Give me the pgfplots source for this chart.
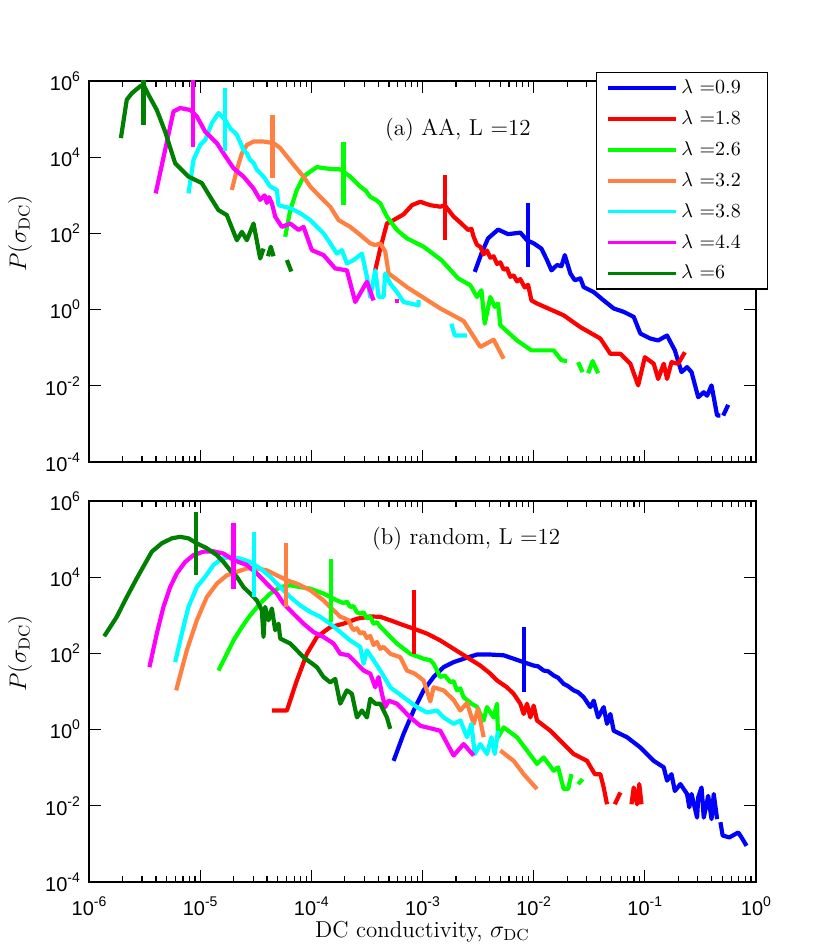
\documentclass[border=0pt]{standalone}
\usepackage{fontspec}
\usepackage{pgfplots}
\pgfplotsset{compat=1.18}
\newfontfamily\tf{Liberation Sans}
\definecolor{cB}{rgb}{0,0,1}
\definecolor{cR}{rgb}{1,0,0}
\definecolor{cG}{rgb}{0,1,0}
\definecolor{cO}{rgb}{1,0.5,0.25}
\definecolor{cC}{rgb}{0,1,1}
\definecolor{cM}{rgb}{1,0,1}
\definecolor{cD}{rgb}{0,0.5,0}
\newcommand\tkl[1]{{\tf\fontsize{10}{12}\selectfont 10\raisebox{4.5pt}{\fontsize{7}{8}\selectfont #1}}}
\newcommand\lgd[1]{\makebox[36pt][l]{$\lambda$ =#1}}
\newcommand\PL[1]{\addplot[#1, line width=2.1pt, line join=round] table[row sep=\\, x expr={10^(\thisrow{lx})}, y expr={10^(\thisrow{ly})}]}
\begin{document}
\begin{tikzpicture}
\path[use as bounding box] (0,0) rectangle (415.5pt,476pt);
% ---------------- (a) ----------------
\begin{axis}[at={(44.5pt,245pt)}, anchor=south west,
    xmode=log, ymode=log, scale only axis, width=333.5pt, height=190.5pt,
    xmin=1e-6, xmax=1, ymin=1e-4, ymax=1e6,
    xtick={1e-6,1e-5,1e-4,1e-3,1e-2,1e-1,1},
    ytick={1e-4,1e-2,1,1e2,1e4,1e6},
    yticklabels={\tkl{-4},\tkl{-2},\tkl{0},\tkl{2},\tkl{4},\tkl{6}},
    xticklabels={},
    tick align=inside, major tick length=6pt, minor tick length=3pt,
    axis line style={line width=0.8pt},
    every tick/.style={black, line width=0.6pt},
    yticklabel style={xshift=-1pt},
    ylabel={$P(\sigma_{\mathrm{DC}})$},
    ylabel style={at={(axis description cs:-0.1034,0.6)}, anchor=center, font=\fontsize{12}{14}\selectfont},
  legend style={at={(1.018,1.0236)}, anchor=north east, draw=black, line width=0.7pt,
    fill=white, inner xsep=5pt, inner ysep=1.5pt, row sep=3pt,
    font=\fontsize{10}{12}\selectfont},
  legend cell align=left,
  legend image code/.code={\draw[#1,line width=1.7pt] (0pt,0pt) -- (33.6pt,0pt);}]
\PL{cB} {lx ly\\
-2.53 0.99\\ -2.47 1.47\\ -2.41 1.87\\ -2.32 2.10\\ -2.23 1.98\\ -2.12 2.02\\ -2.06 1.82\\ -2.00 1.74\\ -1.93 1.60\\ -1.88 1.30\\ -1.84 1.03\\ -1.79 1.17\\ -1.75 1.14\\ -1.72 1.43\\ -1.67 0.95\\ -1.63 0.77\\ -1.58 0.82\\ -1.55 0.59\\ -1.46 0.46\\ -1.37 0.24\\ -1.28 0.03\\ -1.19 -0.06\\ -1.10 -0.19\\ -1.04 -0.63\\ -0.95 -0.76\\ -0.88 -0.81\\ -0.80 -0.68\\ -0.73 -1.07\\ -0.67 -1.64\\ -0.62 -1.51\\ -0.58 -1.64\\ -0.52 -2.30\\ -0.47 -2.17\\ -0.44 -2.26\\ -0.40 -1.99\\ -0.35 -2.78\\ -0.32 -2.78\\
};
\addlegendentry{\lgd{0.9}}
\PL{cR} {lx ly\\
-3.425 1.03\\ -3.38 1.60\\ -3.32 2.26\\ -3.26 2.35\\ -3.17 2.50\\ -3.095 2.74\\ -3.02 2.83\\ -2.93 2.74\\ -2.84 2.70\\ -2.80 2.74\\ -2.72 2.44\\ -2.65 2.26\\ -2.59 2.09\\ -2.56 2.12\\ -2.54 1.91\\ -2.51 1.70\\ -2.48 1.65\\ -2.45 1.45\\ -2.42 1.55\\ -2.39 1.36\\ -2.36 1.40\\ -2.33 1.20\\ -2.30 1.24\\ -2.27 1.05\\ -2.24 1.08\\ -2.21 0.86\\ -2.18 0.90\\ -2.15 0.74\\ -2.12 0.80\\ -2.08 0.58\\ -2.05 0.65\\ -2.02 0.24\\ -1.97 0.16\\ -1.73 -0.15\\ -1.58 -0.46\\ -1.40 -0.76\\ -1.31 -1.16\\ -1.22 -1.16\\ -1.13 -1.42\\ -1.06 -1.99\\ -1.00 -1.25\\ -0.92 -1.42\\ -0.88 -1.82\\ -0.83 -1.42\\ -0.80 -1.82\\ -0.76 -1.38\\ -0.70 -1.42\\ -0.64 -1.12\\
};
\addlegendentry{\lgd{1.8}}
\PL{cG} {lx ly\\
-4.235 1.91\\ -4.19 2.61\\ -4.13 3.14\\ -4.07 3.49\\ -4.01 3.62\\ -3.95 3.74\\ -3.83 3.69\\ -3.74 3.68\\ -3.65 3.49\\ -3.56 3.23\\ -3.51 3.12\\ -3.47 2.96\\ -3.42 2.88\\ -3.38 2.79\\ -3.32 2.44\\ -3.23 2.09\\ -3.14 1.87\\ -2.99 1.65\\ -2.83 1.30\\ -2.68 0.82\\ -2.57 0.64\\ -2.51 0.33\\ -2.47 0.51\\ -2.44 -0.37\\ -2.39 0.33\\ -2.35 0.07\\ -2.32 0.16\\ -2.30 -0.41\\ -2.15 -0.81\\ -2.02 -1.07\\ -1.82 -1.07\\ -1.75 -1.33\\ -1.70 -1.35\\
};
\addlegendentry{\lgd{2.6}}
\PL{cO} {lx ly\\
-4.715 3.14\\ -4.67 3.67\\ -4.625 4.10\\ -4.58 4.32\\ -4.52 4.41\\ -4.43 4.41\\ -4.34 4.37\\ -4.28 4.24\\ -4.22 4.02\\ -4.145 3.75\\ -4.07 3.49\\ -4.01 3.23\\ -3.92 2.96\\ -3.83 2.70\\ -3.755 2.35\\ -3.65 2.17\\ -3.56 1.96\\ -3.47 1.74\\ -3.425 1.69\\ -3.38 1.74\\ -3.335 1.52\\ -3.305 0.95\\ -3.14 0.59\\ -2.84 0.03\\ -2.63 -0.30\\ -2.48 -0.98\\ -2.36 -0.79\\ -2.27 -1.29\\
};
\addlegendentry{\lgd{3.2}}
\PL{cC} {lx ly\\
-5.105 3.05\\ -5.06 3.93\\ -5.00 4.32\\ -4.955 4.45\\ -4.895 4.89\\ -4.835 5.16\\ -4.775 4.98\\ -4.73 4.76\\ -4.67 4.59\\ -4.61 4.19\\ -4.58 4.10\\ -4.55 3.93\\ -4.52 3.85\\ -4.49 3.67\\ -4.43 3.49\\ -4.37 3.23\\ -4.31 3.14\\ -4.295 2.74\\ -4.19 2.66\\ -4.10 2.53\\ -4.01 2.35\\ -3.89 2.00\\ -3.83 1.74\\ -3.77 1.47\\ -3.725 1.56\\ -3.68 1.21\\ -3.62 1.30\\ -3.545 1.47\\ -3.50 0.86\\ -3.47 0.33\\ -3.425 1.03\\ -3.395 0.33\\ -3.35 0.33\\ -3.335 0.95\\ -3.29 0.68\\ -3.23 0.46\\ -3.17 0.20\\ -3.11 0.16\\ -3.035 0.11\\ -3.035 0.25\\
};
\addlegendentry{\lgd{3.8}}
\PL{cM} {lx ly\\
-5.40 3.05\\ -5.24 5.20\\ -5.18 5.29\\ -5.09 5.24\\ -5.03 5.07\\ -4.955 4.67\\ -4.85 4.37\\ -4.79 4.10\\ -4.70 3.71\\ -4.61 3.49\\ -4.52 3.18\\ -4.46 2.88\\ -4.42 3.00\\ -4.40 2.80\\ -4.38 2.95\\ -4.355 2.79\\ -4.325 2.44\\ -4.265 2.17\\ -4.19 2.26\\ -4.115 2.09\\ -4.07 2.17\\ -3.995 1.56\\ -3.89 1.43\\ -3.785 1.08\\ -3.68 1.03\\ -3.605 0.20\\ -3.50 0.73\\ -3.44 0.24\\
};
\addlegendentry{\lgd{4.4}}
\PL{cD} {lx ly\\
-5.713 4.50\\ -5.66 5.51\\ -5.614 5.68\\ -5.54 5.86\\ -5.51 5.90\\ -5.465 5.64\\ -5.39 5.24\\ -5.315 4.67\\ -5.225 3.84\\ -5.105 3.49\\ -4.985 3.32\\ -4.91 2.96\\ -4.835 2.61\\ -4.76 2.48\\ -4.67 1.82\\ -4.625 2.04\\ -4.58 1.82\\ -4.52 2.26\\ -4.46 1.34\\ -4.43 1.60\\
};
\addlegendentry{\lgd{6}}
% fragments
\PL{cB, forget plot} {lx ly\\ -0.295 -2.78\\ -0.25 -2.50\\};
\PL{cG, forget plot} {lx ly\\ -1.60 -1.38\\ -1.56 -1.64\\};
\PL{cG, forget plot} {lx ly\\ -1.51 -1.67\\ -1.47 -1.35\\ -1.42 -1.67\\};
\PL{cC, forget plot} {lx ly\\ -2.74 -0.37\\ -2.71 -0.68\\ -2.60 -0.68\\};
\PL{cM, forget plot} {lx ly\\ -3.25 0.23\\ -3.215 0.23\\};
\PL{cD, forget plot} {lx ly\\ -4.39 1.40\\ -4.365 1.65\\ -4.34 1.40\\};
\PL{cD, forget plot} {lx ly\\ -4.22 1.30\\ -4.18 1.00\\};
% markers
\PL{cB, forget plot} {lx ly\\ -2.05 2.79\\ -2.05 1.12\\};
\PL{cR, forget plot} {lx ly\\ -2.80 3.53\\ -2.80 1.82\\};
\PL{cG, forget plot} {lx ly\\ -3.71 4.41\\ -3.71 2.74\\};
\PL{cO, forget plot} {lx ly\\ -4.35 5.11\\ -4.35 3.45\\};
\PL{cC, forget plot} {lx ly\\ -4.775 5.82\\ -4.775 4.15\\};
\PL{cM, forget plot} {lx ly\\ -5.066 6.05\\ -5.066 4.28\\};
\PL{cD, forget plot} {lx ly\\ -5.51 6.05\\ -5.51 4.85\\};
\node[anchor=west, font=\fontsize{11.5}{13}\selectfont] at (rel axis cs:0.4335,0.872) {(a) AA, L =12};
\end{axis}
% ---------------- (b) ----------------
\begin{axis}[at={(44.5pt,35pt)}, anchor=south west,
    xmode=log, ymode=log, scale only axis, width=333.5pt, height=190.5pt,
    xmin=1e-6, xmax=1, ymin=1e-4, ymax=1e6,
    xtick={1e-6,1e-5,1e-4,1e-3,1e-2,1e-1,1},
    ytick={1e-4,1e-2,1,1e2,1e4,1e6},
    yticklabels={\tkl{-4},\tkl{-2},\tkl{0},\tkl{2},\tkl{4},\tkl{6}},
    xticklabels={\tkl{-6},\tkl{-5},\tkl{-4},\tkl{-3},\tkl{-2},\tkl{-1},\tkl{0}},
    xticklabel style={yshift=-4pt},
    tick align=inside, major tick length=6pt, minor tick length=3pt,
    axis line style={line width=0.8pt},
    every tick/.style={black, line width=0.6pt},
    yticklabel style={xshift=-1pt},
    ylabel={$P(\sigma_{\mathrm{DC}})$},
    ylabel style={at={(axis description cs:-0.1034,0.6)}, anchor=center, font=\fontsize{12}{14}\selectfont},
    xlabel={DC conductivity, $\sigma_{\mathrm{DC}}$},
    xlabel style={at={(axis description cs:0.5,0)}, anchor=base, yshift=-27.5pt, font=\fontsize{11.5}{13}\selectfont}]
\PL{cB} {lx ly\\
-3.26 -0.82\\ -3.17 -0.11\\ -3.08 0.50\\ -2.99 1.03\\ -2.90 1.38\\ -2.81 1.64\\ -2.72 1.77\\ -2.63 1.86\\ -2.51 1.97\\ -2.39 1.97\\ -2.27 1.95\\ -2.18 1.86\\ -2.09 1.77\\ -2.00 1.68\\ -1.96 1.66\\ -1.91 1.55\\ -1.87 1.53\\ -1.82 1.42\\ -1.78 1.36\\ -1.73 1.20\\ -1.69 1.14\\ -1.64 1.03\\ -1.60 0.98\\ -1.55 0.85\\ -1.49 0.59\\ -1.46 0.76\\ -1.42 0.32\\ -1.37 0.59\\ -1.34 0.15\\ -1.31 0.41\\ -1.28 -0.03\\ -1.16 -0.20\\ -1.04 -0.47\\ -0.92 -0.82\\ -0.83 -0.99\\ -0.80 -1.34\\ -0.76 -1.17\\ -0.73 -1.61\\ -0.68 -1.43\\ -0.62 -1.69\\ -0.60 -2.04\\ -0.58 -1.69\\ -0.53 -2.31\\ -0.52 -1.78\\ -0.49 -1.52\\ -0.47 -2.31\\ -0.43 -1.74\\ -0.40 -2.35\\ -0.38 -1.69\\ -0.35 -2.35\\
};
\PL{cR} {lx ly\\
-4.355 0.50\\ -4.22 0.50\\ -4.13 1.29\\ -4.04 1.99\\ -3.95 2.43\\ -3.83 2.69\\ -3.71 2.78\\ -3.59 2.91\\ -3.47 2.97\\ -3.38 2.96\\ -3.29 2.87\\ -3.17 2.74\\ -3.08 2.65\\ -2.96 2.52\\ -2.84 2.34\\ -2.72 2.12\\ -2.60 1.90\\ -2.48 1.68\\ -2.39 1.47\\ -2.33 1.29\\ -2.24 1.11\\ -2.18 0.94\\ -2.12 0.68\\ -2.09 0.41\\ -2.06 0.68\\ -2.03 0.32\\ -2.00 0.63\\ -1.97 0.24\\ -1.85 -0.03\\ -1.73 -0.38\\ -1.64 -0.64\\ -1.52 -0.82\\ -1.45 -1.17\\ -1.40 -1.17\\ -1.37 -1.52\\ -1.34 -1.96\\
};
\PL{cG} {lx ly\\
-4.835 1.55\\ -4.76 1.99\\ -4.70 2.34\\ -4.625 2.69\\ -4.55 3.00\\ -4.46 3.31\\ -4.37 3.57\\ -4.28 3.74\\ -4.19 3.79\\ -4.10 3.74\\ -4.01 3.70\\ -3.89 3.57\\ -3.77 3.39\\ -3.71 3.32\\ -3.68 3.36\\ -3.65 3.22\\ -3.62 3.24\\ -3.59 3.08\\ -3.56 3.04\\ -3.53 3.08\\ -3.50 2.92\\ -3.47 2.96\\ -3.44 2.78\\ -3.41 2.82\\ -3.38 2.70\\ -3.35 2.62\\ -3.32 2.52\\ -3.23 2.26\\ -3.11 1.99\\ -2.99 1.86\\ -2.93 1.82\\ -2.90 1.73\\ -2.84 1.38\\ -2.80 1.42\\ -2.75 1.25\\ -2.72 1.27\\ -2.69 1.03\\ -2.66 1.08\\ -2.63 0.85\\ -2.56 0.68\\ -2.51 0.60\\ -2.45 0.24\\ -2.42 0.59\\ -2.36 0.32\\ -2.33 0.68\\ -2.32 -0.20\\ -2.27 0.06\\ -2.15 -0.20\\ -2.06 -0.55\\ -1.97 -0.90\\ -1.91 -0.73\\ -1.82 -1.08\\ -1.78 -0.99\\ -1.73 -1.56\\ -1.69 -1.56\\ -1.66 -1.17\\
};
\PL{cO} {lx ly\\
-5.216 1.03\\ -5.12 2.08\\ -5.03 2.87\\ -4.94 3.48\\ -4.85 3.83\\ -4.76 4.05\\ -4.67 4.14\\ -4.58 4.23\\ -4.49 4.23\\ -4.40 4.18\\ -4.31 4.05\\ -4.22 3.92\\ -4.13 3.83\\ -4.01 3.66\\ -3.89 3.39\\ -3.80 3.13\\ -3.77 3.05\\ -3.74 2.96\\ -3.70 2.92\\ -3.665 2.87\\ -3.64 2.70\\ -3.62 2.61\\ -3.59 2.66\\ -3.56 2.52\\ -3.53 2.56\\ -3.50 2.40\\ -3.47 2.46\\ -3.44 2.22\\ -3.41 2.30\\ -3.38 2.12\\ -3.35 2.17\\ -3.29 1.99\\ -3.20 1.90\\ -3.14 1.55\\ -3.07 1.47\\ -2.99 1.29\\ -2.93 0.74\\ -2.90 1.11\\ -2.81 1.03\\ -2.72 0.78\\ -2.66 0.50\\ -2.60 0.70\\ -2.54 0.15\\ -2.50 0.55\\ -2.45 -0.20\\
};
\PL{cC} {lx ly\\
-5.225 1.77\\ -5.165 2.52\\ -5.105 3.22\\ -5.03 3.74\\ -4.955 4.01\\ -4.88 4.32\\ -4.805 4.49\\ -4.73 4.53\\ -4.64 4.49\\ -4.55 4.40\\ -4.46 4.23\\ -4.37 4.01\\ -4.28 3.74\\ -4.19 3.48\\ -4.10 3.26\\ -4.01 3.09\\ -3.92 2.96\\ -3.83 2.78\\ -3.74 2.56\\ -3.65 2.34\\ -3.56 2.17\\ -3.53 1.73\\ -3.50 2.08\\ -3.44 1.82\\ -3.38 1.55\\ -3.29 1.11\\ -3.17 0.85\\ -3.05 0.59\\ -2.96 0.45\\ -2.87 0.50\\ -2.81 0.32\\ -2.72 0.15\\ -2.66 0.24\\ -2.60 -0.20\\ -2.56 0.15\\ -2.53 -0.64\\ -2.48 -0.38\\ -2.42 -0.64\\ -2.38 -0.20\\ -2.35 -0.64\\ -2.32 -0.03\\
};
\PL{cM} {lx ly\\
-5.456 1.64\\ -5.39 2.52\\ -5.33 3.22\\ -5.27 3.74\\ -5.21 4.10\\ -5.135 4.40\\ -5.06 4.58\\ -4.97 4.67\\ -4.88 4.68\\ -4.79 4.62\\ -4.70 4.45\\ -4.58 4.32\\ -4.49 4.10\\ -4.40 3.83\\ -4.31 3.57\\ -4.25 3.31\\ -4.16 3.04\\ -4.07 2.78\\ -3.98 2.56\\ -3.89 2.43\\ -3.80 2.26\\ -3.74 1.99\\ -3.665 1.95\\ -3.59 1.73\\ -3.53 1.55\\ -3.47 1.47\\ -3.425 1.11\\ -3.395 1.38\\ -3.365 0.94\\ -3.335 0.59\\ -3.305 0.76\\ -3.23 0.68\\ -3.11 0.32\\ -3.02 0.10\\ -2.84 -0.03\\ -2.72 -0.68\\ -2.63 -0.38\\ -2.54 -0.68\\
};
\PL{cD} {lx ly\\
-5.863 2.45\\ -5.75 2.96\\ -5.66 3.48\\ -5.57 3.97\\ -5.495 4.36\\ -5.435 4.67\\ -5.345 4.89\\ -5.255 5.02\\ -5.18 5.06\\ -5.105 5.02\\ -5.03 4.89\\ -4.94 4.76\\ -4.85 4.58\\ -4.79 4.40\\ -4.73 4.18\\ -4.67 4.01\\ -4.61 3.74\\ -4.55 3.57\\ -4.49 3.39\\ -4.445 3.13\\ -4.43 2.43\\ -4.415 3.22\\ -4.385 2.87\\ -4.355 3.18\\ -4.325 2.61\\ -4.295 2.78\\ -4.28 2.39\\ -4.19 2.26\\ -4.07 1.90\\ -3.95 1.64\\ -3.89 1.38\\ -3.83 1.24\\ -3.785 1.33\\ -3.74 0.68\\ -3.68 1.03\\ -3.635 0.94\\ -3.59 0.32\\ -3.545 0.50\\ -3.50 0.32\\ -3.47 0.81\\ -3.425 0.68\\ -3.38 0.68\\ -3.35 0.50\\ -3.32 0.32\\ -3.29 0.02\\
};
% fragments
\PL{cB} {lx ly\\ -0.32 -2.43\\ -0.30 -2.78\\ -0.24 -2.83\\ -0.16 -2.70\\ -0.13 -2.83\\ -0.085 -3.05\\};
\PL{cR} {lx ly\\ -1.27 -1.96\\ -1.22 -1.65\\};
\PL{cR} {lx ly\\ -1.12 -1.96\\ -1.10 -1.52\\ -1.07 -1.96\\ -1.05 -1.43\\ -1.03 -1.96\\};
\PL{cG} {lx ly\\ -1.60 -1.43\\ -1.56 -1.30\\};
\PL{cO} {lx ly\\ -2.30 -0.55\\ -2.18 -0.82\\ -2.09 -1.17\\ -1.97 -1.56\\};
% markers
\PL{cB} {lx ly\\ -2.086 2.69\\ -2.086 0.98\\};
\PL{cR} {lx ly\\ -3.08 3.66\\ -3.08 1.99\\};
\PL{cG} {lx ly\\ -3.825 4.49\\ -3.825 2.82\\};
\PL{cO} {lx ly\\ -4.227 4.89\\ -4.227 3.22\\};
\PL{cC} {lx ly\\ -4.515 5.19\\ -4.515 3.48\\};
\PL{cM} {lx ly\\ -4.70 5.41\\ -4.70 3.70\\};
\PL{cD} {lx ly\\ -5.036 5.72\\ -5.036 4.05\\};
\node[anchor=west, font=\fontsize{11.5}{13}\selectfont] at (rel axis cs:0.414,0.902) {(b) random, L =12};
\end{axis}
\end{tikzpicture}
\end{document}
